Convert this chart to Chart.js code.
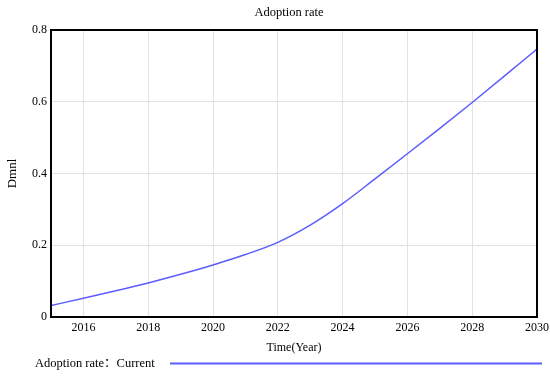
<!DOCTYPE html>
<html>
<head>
<meta charset="utf-8">
<title>Adoption rate</title>
<script src="https://cdn.jsdelivr.net/npm/chart.js@4/dist/chart.umd.min.js"></script>
<style>
    html, body { margin: 0; padding: 0; background: #fff; }
    #chart { display: block; }
</style>
</head>
<body>
<canvas id="chart" width="550" height="379"></canvas>
<script>
// data
const years = [2015, 2016, 2017, 2018, 2019, 2020, 2021, 2022, 2023, 2024, 2025, 2026, 2027, 2028, 2029, 2030];
const adoptionCurrent = [0.032, 0.052, 0.073, 0.095, 0.119, 0.145, 0.174, 0.208, 0.256, 0.316, 0.385, 0.455, 0.526, 0.598, 0.672, 0.747];
const xTicks = [2016, 2018, 2020, 2022, 2024, 2026, 2028, 2030];
const yTicks = [0, 0.2, 0.4, 0.6, 0.8];

const serif = "'Liberation Serif', 'Times New Roman', 'Noto Sans CJK SC', serif";
const lineColor = '#5c5cff';

// title, frame and legend drawn on top of the chart
const decorations = {
    id: 'decorations',
    afterDraw(chart) {
        const { ctx, chartArea: a } = chart;
        ctx.save();
        ctx.strokeStyle = '#000';
        ctx.lineWidth = 2;
        ctx.strokeRect(a.left, a.top, a.right - a.left, a.bottom - a.top);

        ctx.fillStyle = '#000';
        ctx.font = '12.5px ' + serif;
        ctx.textAlign = 'center';
        ctx.textBaseline = 'middle';
        ctx.fillText('Adoption rate', (a.left + a.right) / 2 - 5, 13);

        ctx.textAlign = 'left';
        ctx.fillText('Adoption rate：Current', 35, 364);
        ctx.strokeStyle = lineColor;
        ctx.lineWidth = 2;
        ctx.beginPath();
        ctx.moveTo(170, 363.5);
        ctx.lineTo(542, 363.5);
        ctx.stroke();
        ctx.restore();
    }
};

new Chart(document.getElementById('chart'), {
    type: 'line',
    data: {
        datasets: [{
            label: 'Adoption rate：Current',
            data: years.map((y, i) => ({ x: y, y: adoptionCurrent[i] })),
            borderColor: lineColor,
            borderWidth: 1.5,
            pointRadius: 0,
            cubicInterpolationMode: 'monotone',
            fill: false
        }]
    },
    options: {
        responsive: false,
        animation: false,
        layout: { padding: { top: 30, right: 13, bottom: 24, left: 0 } },
        plugins: {
            legend: { display: false },
            tooltip: { enabled: false }
        },
        scales: {
            x: {
                type: 'linear',
                min: 2015,
                max: 2030,
                afterBuildTicks: s => { s.ticks = xTicks.map(v => ({ value: v })); },
                afterFit: s => { s.height = 38; s.paddingLeft = 0; s.paddingRight = 0; },
                grid: { color: '#e2e2e2', drawTicks: false },
                border: { display: false },
                ticks: {
                    color: '#000',
                    padding: 4,
                    maxRotation: 0,
                    font: { family: serif, size: 12 },
                    callback: v => String(v)
                },
                title: {
                    display: true,
                    text: 'Time(Year)',
                    color: '#000',
                    font: { family: serif, size: 12 },
                    padding: { top: 2, bottom: 0 }
                }
            },
            y: {
                min: 0,
                max: 0.8,
                afterBuildTicks: s => { s.ticks = yTicks.map(v => ({ value: v })); },
                afterFit: s => { s.width = 51; s.paddingTop = 0; s.paddingBottom = 0; },
                grid: { color: '#e2e2e2', drawTicks: false },
                border: { display: false },
                ticks: {
                    color: '#000',
                    padding: 4,
                    font: { family: serif, size: 12 },
                    callback: v => String(Math.round(v * 10) / 10)
                },
                title: {
                    display: true,
                    text: 'Dmnl',
                    color: '#000',
                    font: { family: serif, size: 13 },
                    padding: { top: 5, bottom: 0 }
                }
            }
        }
    },
    plugins: [decorations]
});
</script>
</body>
</html>
